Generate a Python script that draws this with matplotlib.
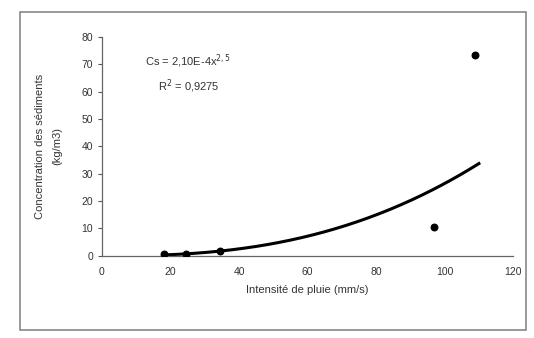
import numpy as np
import matplotlib
matplotlib.use("Agg")
import matplotlib.pyplot as plt
from matplotlib.patches import Rectangle

# Points
intensite = [18, 24.5, 34.5, 97, 109]
concentration = [0.8, 0.6, 1.6, 10.5, 73.5]

# Power trend line Cs = a * x^b
coef_a = 2.10e-4
coef_b = 2.55
x_range = [18, 110]

x_ticks = [0, 20, 40, 60, 80, 100, 120]
y_ticks = [0, 10, 20, 30, 40, 50, 60, 70, 80]

plt.rcParams['font.family'] = ['Liberation Sans', 'DejaVu Sans']

fig = plt.figure(figsize=(5.34, 3.38), dpi=100)
ax = fig.add_axes([0.191, 0.243, 0.770, 0.648])

# outer frame of the figure
fig.patches.append(Rectangle((0.037, 0.025), 0.948, 0.94, transform=fig.transFigure,
                             fill=False, edgecolor='#888888', linewidth=1.2))

xs = np.linspace(x_range[0], x_range[1], 200)
ax.plot(xs, coef_a * xs ** coef_b, color='black', linewidth=2.2)
ax.scatter(intensite, concentration, color='black', s=22, zorder=3)

ax.set_xlim(0, 120)
ax.set_ylim(0, 80)
ax.set_xticks(x_ticks)
ax.set_yticks(y_ticks)
ax.tick_params(labelsize=7.5, length=3, width=0.8, color='#555555', labelcolor='#333333')
ax.tick_params(axis='x', length=0, pad=8)

for side in ['top', 'right']:
    ax.spines[side].set_visible(False)
for side in ['left', 'bottom']:
    ax.spines[side].set_color('#666666')
    ax.spines[side].set_linewidth(0.9)

ax.set_xlabel('Intensité de pluie (mm/s)', fontsize=8, color='#333333', labelpad=6)
ax.set_ylabel('Concentration des sédiments\n(kg/m3)', fontsize=8, color='#333333',
              labelpad=14, linespacing=1.9)

ax.text(0.21, 0.93, 'Cs = 2,10E-4x$^{2,5}$\nR$^{2}$ = 0,9275', transform=ax.transAxes,
        fontsize=8, color='#333333', ha='center', va='top', linespacing=1.6)

fig.savefig('out.png', dpi=100, facecolor='white')
